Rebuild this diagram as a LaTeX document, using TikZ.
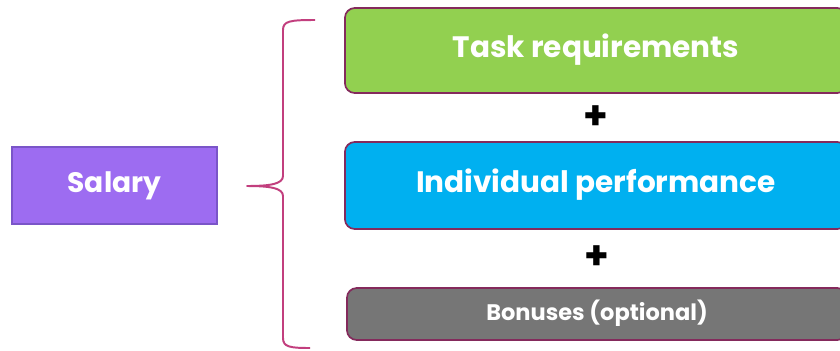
\documentclass[tikz,border=0pt]{standalone}
\usepackage{fontspec}
\setmainfont{Poppins}
\definecolor{salaryfill}{HTML}{9D6CF1}
\definecolor{salaryline}{HTML}{7A55C8}
\definecolor{taskfill}{HTML}{92D050}
\definecolor{perffill}{HTML}{00B0F0}
\definecolor{bonusfill}{HTML}{767676}
\definecolor{boxline}{HTML}{842A5C}
\definecolor{bracecol}{HTML}{C23F7E}

\begin{document}
\begin{tikzpicture}[x=0.025cm, y=-0.025cm,
  part/.style = {rectangle, rounded corners=7pt, draw=boxline, line width=1.2pt,
                 text=white, font=\bfseries\fontsize{21}{24}\selectfont,
                 text height=.95em, text depth=0pt,
                 minimum width=12.55cm, inner sep=0pt},
  plus/.style = {font=\bfseries\fontsize{28}{30}\selectfont, inner sep=0pt},]

\clip (0,0) rectangle (840,350);
\useasboundingbox (0,0) rectangle (840,350);

\node[rectangle, draw=salaryline, fill=salaryfill, line width=.8pt, text=white,
      font=\bfseries\fontsize{20}{22}\selectfont, text height=.95em, text depth=0pt,
      minimum width=5.125cm, minimum height=1.925cm] (salary) at (114.5,185.5) {Salary};

\node[part, fill=taskfill, minimum height=2.125cm] (task) at (596,50.5) {Task requirements};
\node[plus] (plus1) at (596,118) {+};
\node[part, fill=perffill, minimum height=2.175cm] (perf) at (596,185.5) {Individual performance};
\node[plus] (plus2) at (597,258) {+};
\node[part, fill=bonusfill, minimum width=12.5cm, minimum height=1.3cm,
      font=\bfseries\fontsize{16}{18}\selectfont] (bonus) at (597,314) {Bonuses (optional)};

% curly brace
\draw[bracecol, line width=1.4pt, line join=round]
  (315,20) .. controls (290,20) and (283,21) .. (283,30)
  -- (283,176) .. controls (283,184) and (270,186) .. (247,186)
  .. controls (270,186) and (283,188) .. (283,196)
  -- (283,338) .. controls (283,347) and (290,348) .. (310,348);

\end{tikzpicture}
\end{document}
